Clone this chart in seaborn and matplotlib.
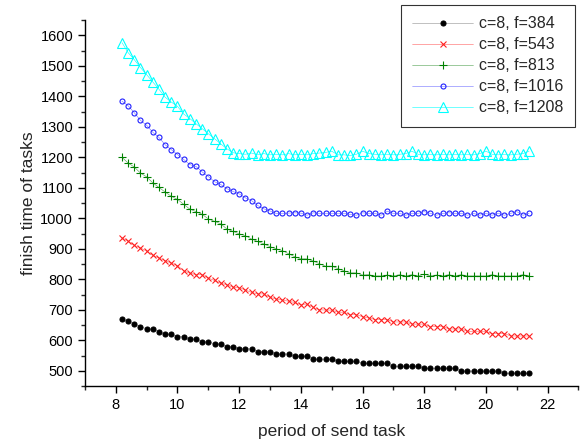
import numpy as np
import pandas as pd
import seaborn as sns
import matplotlib
matplotlib.use('Agg')
import matplotlib.pyplot as plt
from matplotlib.ticker import MultipleLocator

# period of send task: 8.2 .. 21.4, step 0.2
period = [round(8.2 + 0.2 * i, 1) for i in range(67)]

f384 = [670, 662, 653, 645, 637, 637, 628, 620, 620, 612, 612, 604, 604, 595, 595, 588, 588,
        579, 579, 572, 572, 572, 563, 563, 563, 555, 555, 555, 548, 548, 548, 538, 538, 538,
        538, 531, 531, 531, 531, 524, 524, 524, 524, 524, 514, 514, 514, 514, 514, 508, 508,
        508, 508, 508, 508, 499, 499, 499, 499, 499, 499, 499, 492, 492, 492, 492, 492]
f543 = [936, 925, 911, 903, 892, 878, 870, 861, 853, 845, 828, 820, 815, 815, 804, 796, 787,
        782, 774, 772, 765, 757, 752, 752, 741, 735, 732, 728, 724, 717, 719, 708, 700, 699,
        699, 692, 692, 684, 684, 677, 673, 668, 668, 668, 660, 660, 660, 653, 653, 653, 645,
        645, 645, 637, 637, 637, 629, 629, 629, 629, 622, 622, 622, 614, 614, 614, 614]
f813 = [1200, 1181, 1168, 1148, 1136, 1116, 1101, 1086, 1072, 1062, 1046, 1030, 1022, 1013,
        998, 990, 982, 965, 957, 949, 943, 932, 924, 916, 907, 900, 894, 884, 874, 867, 867,
        860, 851, 843, 843, 835, 828, 821, 821, 814, 815, 811, 811, 814, 811, 815, 811, 815,
        811, 817, 811, 814, 811, 815, 811, 815, 811, 811, 811, 811, 815, 811, 811, 811, 811,
        815, 811]
f1016 = [1384, 1369, 1346, 1321, 1305, 1282, 1265, 1241, 1225, 1209, 1193, 1176, 1170, 1152,
         1137, 1120, 1111, 1097, 1088, 1080, 1067, 1058, 1042, 1031, 1024, 1016, 1016, 1017,
         1018, 1017, 1010, 1018, 1016, 1016, 1016, 1016, 1016, 1013, 1010, 1018, 1016, 1016,
         1010, 1023, 1016, 1016, 1010, 1016, 1016, 1022, 1016, 1010, 1016, 1018, 1016, 1016,
         1010, 1016, 1010, 1016, 1010, 1016, 1010, 1016, 1022, 1010, 1016]
f1208 = [1576, 1543, 1520, 1494, 1471, 1447, 1423, 1397, 1381, 1367, 1342, 1327, 1310, 1294,
         1277, 1261, 1244, 1228, 1215, 1212, 1210, 1214, 1208, 1212, 1208, 1210, 1208, 1212,
         1208, 1210, 1208, 1212, 1214, 1216, 1220, 1208, 1208, 1206, 1210, 1220, 1212, 1210,
         1208, 1210, 1208, 1210, 1212, 1220, 1210, 1208, 1210, 1208, 1210, 1208, 1210, 1208,
         1210, 1208, 1212, 1220, 1210, 1208, 1210, 1208, 1210, 1212, 1220]

labels = ['c=8, f=384', 'c=8, f=543', 'c=8, f=813', 'c=8, f=1016', 'c=8, f=1208']
series = [f384, f543, f813, f1016, f1208]

STYLE = {
    'c=8, f=384': dict(color='black', marker='o', ms=3.6, mfc='black', lc='#909090'),
    'c=8, f=543': dict(color='#ff2020', marker='x', ms=4.2, mfc='none', lc='#ff6060'),
    'c=8, f=813': dict(color='#008000', marker='+', ms=5.5, mfc='none', lc='#50a050'),
    'c=8, f=1016': dict(color='#2020ff', marker='o', ms=3.6, mfc='none', lc='#7070ff'),
    'c=8, f=1208': dict(color='#00ffff', marker='^', ms=6.5, mfc='none', lc='#00ffff'),
}

sns.set_style('ticks')
plt.rcParams['font.family'] = ['Liberation Sans', 'DejaVu Sans']

fig = plt.figure(figsize=(5.84, 4.46), dpi=100)
ax = fig.add_axes([0.1455, 0.1345, 0.845, 0.8205])

for name, vals in zip(labels, series):
    st = STYLE[name]
    df = pd.DataFrame({'period': period, 'finish': vals})
    sns.lineplot(data=df, x='period', y='finish', ax=ax, estimator=None, sort=False,
                 color=st['lc'], linewidth=0.4, marker=st['marker'], markersize=st['ms'],
                 markerfacecolor=st['mfc'], markeredgecolor=st['color'],
                 markeredgewidth=0.8, label=name)

ax.set_xlim(7, 23)
ax.set_ylim(450, 1650)
ax.xaxis.set_major_locator(MultipleLocator(2))
ax.xaxis.set_minor_locator(MultipleLocator(1))
ax.yaxis.set_major_locator(MultipleLocator(100))
ax.yaxis.set_minor_locator(MultipleLocator(50))
ax.tick_params(which='major', length=5, width=1, labelsize=10.5, colors='black')
ax.tick_params(which='minor', length=3, width=1)
sns.despine(ax=ax)
for s in ['left', 'bottom']:
    ax.spines[s].set_color('black')
    ax.spines[s].set_linewidth(1)

ax.set_xlabel('period of send task', fontsize=12.5, labelpad=9)
ax.set_ylabel('finish time of tasks', fontsize=12.5, labelpad=3)

leg = ax.legend(loc='upper right', bbox_to_anchor=(575 / 584, 1 - 5 / 446),
                bbox_transform=fig.transFigure, borderaxespad=0, frameon=True, fancybox=False,
                fontsize=11.5, handlelength=3.8, borderpad=0.7, labelspacing=0.38,
                handletextpad=0.4)
leg.get_frame().set_edgecolor('black')
leg.get_frame().set_linewidth(0.8)

fig.savefig('out.png', dpi=100)
